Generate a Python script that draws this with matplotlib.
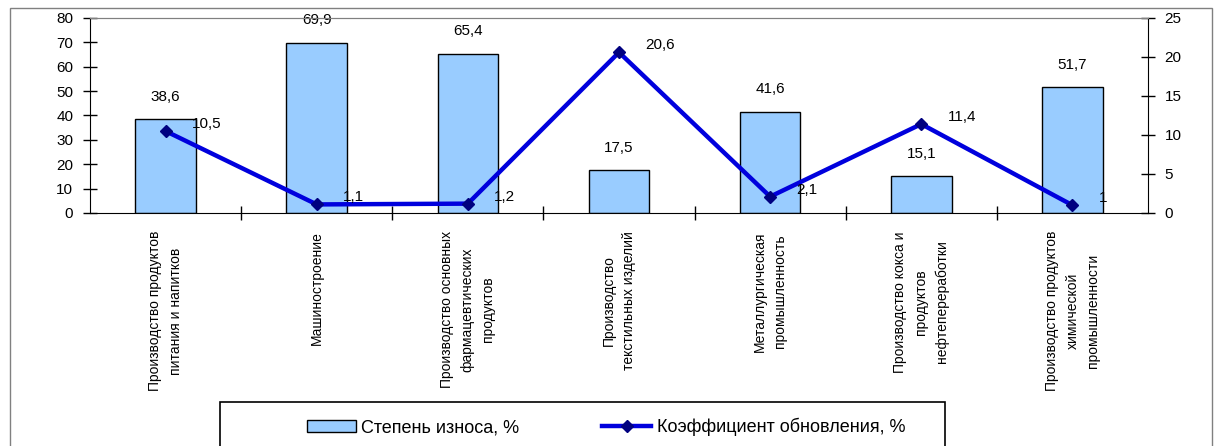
import matplotlib.pyplot as plt
from matplotlib.patches import Rectangle
import numpy as np

plt.rcParams['font.family'] = ['Liberation Sans', 'DejaVu Sans']

categories = [
    "Производство продуктов\nпитания и напитков",
    "Машиностроение",
    "Производство основных\nфармацевтических\nпродуктов",
    "Производство\nтекстильных изделий",
    "Металлургическая\nпромышленность",
    "Производство кокса и\nпродуктов\nнефтепереработки",
    "Производство продуктов\nхимической\nпромышленности",
]
wear = [38.6, 69.9, 65.4, 17.5, 41.6, 15.1, 51.7]
renewal = [10.5, 1.1, 1.2, 20.6, 2.1, 11.4, 1.0]
wear_label = "Степень износа, %"
renewal_label = "Коэффициент обновления, %"


def fmt(v):
    return f"{v:g}".replace(".", ",")


W, H = 1214, 446
fig = plt.figure(figsize=(W / 100, H / 100), dpi=100)
ax = fig.add_axes([90 / W, 1 - 213 / H, (1148 - 90) / W, (213 - 18) / H])
ax2 = ax.twinx()

x = np.arange(len(categories))
bars = ax.bar(x, wear, width=0.4, color="#99CCFF", edgecolor="black",
              linewidth=1, label=wear_label)
ax.set_xlim(-0.5, len(categories) - 0.5)
ax.set_ylim(0, 80)
ax.set_yticks(range(0, 81, 10))

for xi, v in zip(x, wear):
    ax.annotate(fmt(v), (xi, v), xytext=(0, 16), textcoords="offset points",
                ha="center", va="center", fontsize=11)

line, = ax2.plot(x, renewal, color="#0000DD", lw=3.2, marker="D", ms=6,
                 mfc="#000080", mec="#000080", label=renewal_label)
ax2.set_ylim(0, 25)
ax2.set_yticks(range(0, 26, 5))
for xi, v in zip(x, renewal):
    ax2.annotate(fmt(v), (xi, v), xytext=(19, 5), textcoords="offset points",
                 ha="left", va="center", fontsize=11)

# axes styling
for a in (ax, ax2):
    a.spines["top"].set_color("#808080")
    a.tick_params(axis="y", direction="inout", length=10, width=1,
                  labelsize=11, pad=7)
ax.spines["right"].set_visible(False)
ax2.spines["left"].set_visible(False)
ax2.spines["bottom"].set_visible(False)

ax.set_xticks(x)
ax.set_xticklabels(categories, rotation=90, va="top", ha="center",
                   fontsize=10, linespacing=1.6, multialignment="center")
ax.tick_params(axis="x", which="major", length=0, pad=13)
ax.set_xticks(np.arange(0.5, len(categories) - 1), minor=True)
ax.tick_params(axis="x", which="minor", direction="inout", length=10, width=1)

# outer frame and legend box
fig.patches.append(Rectangle((10 / W, -0.1), (1212 - 10) / W, 1.1 - 8 / H,
                             transform=fig.transFigure, fill=False,
                             edgecolor="#808080", lw=1))
fig.patches.append(Rectangle((220 / W, -0.1), (945 - 220) / W, 0.1 + 1 - 402 / H,
                             transform=fig.transFigure, fill=False,
                             edgecolor="black", lw=1.2))
fig.legend([bars, line], [wear_label, renewal_label], loc="center",
           bbox_to_anchor=(606 / W, 1 - 427 / H), ncol=2, frameon=False,
           fontsize=13, handlelength=2.7, handletextpad=0.3,
           columnspacing=4.6)

fig.savefig("out.png", dpi=100)
